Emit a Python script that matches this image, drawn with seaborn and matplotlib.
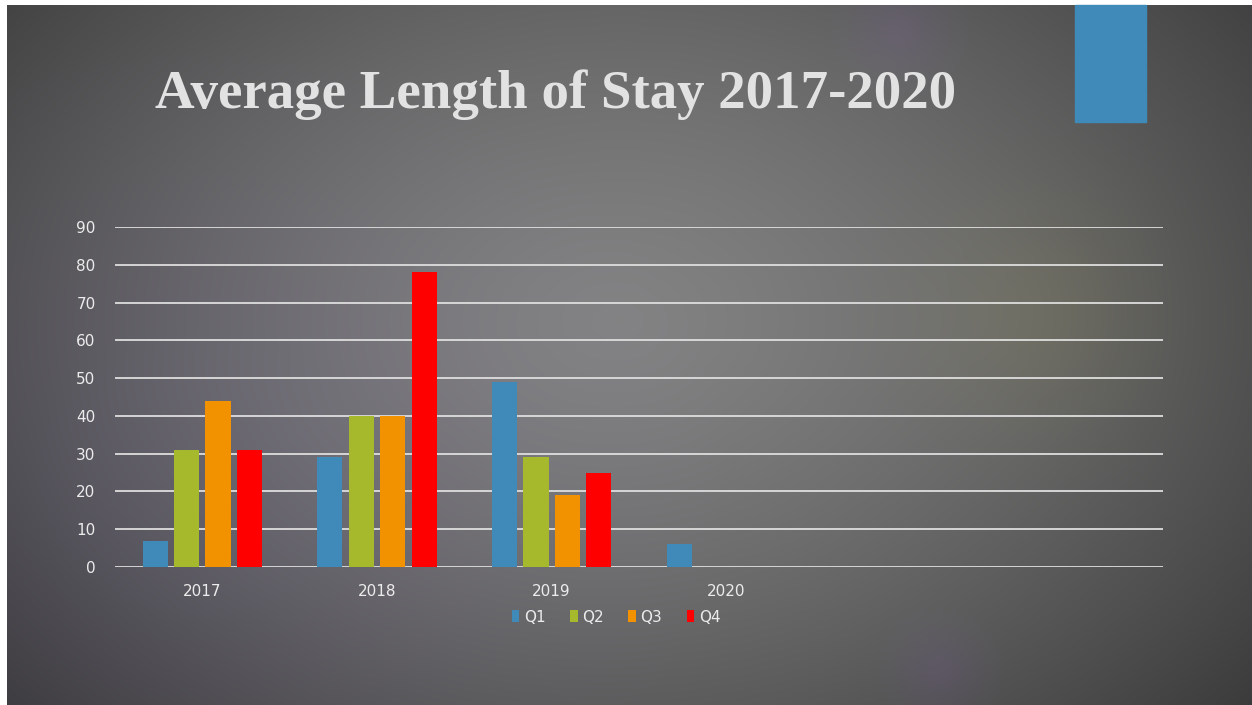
import numpy as np
import pandas as pd
import matplotlib
matplotlib.use("Agg")
import matplotlib.pyplot as plt
from matplotlib.patches import Rectangle
import seaborn as sns

# data
years = ["2017", "2018", "2019", "2020"]
quarters = ["Q1", "Q2", "Q3", "Q4"]
q1 = [7, 29, 49, 6]
q2 = [31, 40, 29, np.nan]
q3 = [44, 40, 19, np.nan]
q4 = [31, 78, 25, np.nan]
y_ticks = [0, 10, 20, 30, 40, 50, 60, 70, 80, 90]
colors = ["#3f8ab9", "#a6b82b", "#f39200", "#ff0000"]

df = pd.DataFrame({
    "Year": years * 4,
    "Quarter": np.repeat(quarters, len(years)),
    "Days": q1 + q2 + q3 + q4,
})

W, H = 1252, 705
fig = plt.figure(figsize=(W / 100, H / 100), dpi=100)

# slide background: grey radial gradient with soft tinted glows
bg = fig.add_axes([0, 0, 1, 1])
yy, xx = np.mgrid[0:H, 0:W]
r = np.hypot((xx - 620) / 760, (yy - 320) / 560)
base = 0.51 - 0.25 * np.clip(r, 0, 1.3) ** 1.4
img = np.dstack([base, base, base])
p = np.exp(-(((xx - 200) / 360) ** 2 + ((yy - 480) / 300) ** 2))
img[..., 0] += 0.01 * p
img[..., 2] += 0.035 * p
g = np.exp(-(((xx - 1040) / 110) ** 2 + ((yy - 310) / 110) ** 2))
img[..., 0] += 0.03 * g
img[..., 1] += 0.028 * g
img[..., 2] -= 0.01 * g
for cx, cy, s in [(900, 30, 45), (940, 670, 40)]:
    sp = np.exp(-(((xx - cx) / s) ** 2 + ((yy - cy) / s) ** 2))
    img[..., 0] += 0.02 * sp
    img[..., 2] += 0.045 * sp
img = np.clip(img, 0, 1)
img[:5, :] = 1
img[:, :7] = 1
bg.imshow(img, extent=(0, W, H, 0), aspect="auto", interpolation="bilinear")
bg.add_patch(Rectangle((1075, 5), 71, 117, color="#3f8ab9"))
bg.set_xlim(0, W)
bg.set_ylim(H, 0)
bg.axis("off")

fig.text(556 / W, 1 - 108 / H, "Average Length of Stay 2017-2020",
         family="Liberation Serif", weight="bold", size=39.5,
         color="#e2e2e2", ha="center", va="baseline")

# chart area
ax = fig.add_axes([115 / W, 138 / H, 1048 / W, 340 / H])
ax.patch.set_alpha(0)
sns.barplot(data=df, x="Year", y="Days", hue="Quarter", order=years,
            hue_order=quarters, palette=colors, width=0.72, gap=0.2,
            saturation=1, ax=ax)

ax.set_xlim(-0.5, 5.5)
ax.set_ylim(0, 90)
ax.set_yticks(y_ticks)
for t in y_ticks:
    ax.axhline(t, color="#dedede", lw=1.3, zorder=0)
for s in ax.spines.values():
    s.set_visible(False)
ax.tick_params(length=0, colors="#ececec", labelsize=11, pad=12)
ax.tick_params(axis="y", pad=14)
for lab in ax.get_xticklabels() + ax.get_yticklabels():
    lab.set_family("DejaVu Sans")
ax.set_xlabel("")
ax.set_ylabel("")

ax.legend(loc="upper center", bbox_to_anchor=(0.5 + (616 - 639) / 1048, -0.085),
          ncol=4, frameon=False, handlelength=0.5, handleheight=0.8,
          handletextpad=0.3, columnspacing=1.6, labelcolor="#ececec",
          prop={"family": "DejaVu Sans", "size": 11})

fig.savefig("out.png", dpi=100)
